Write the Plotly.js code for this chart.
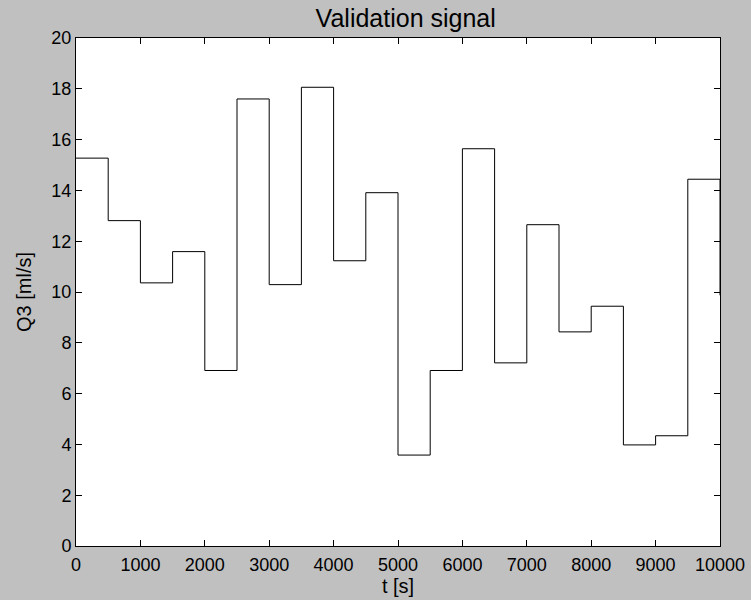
<!DOCTYPE html>
<html>
<head>
<meta charset="utf-8">
<script src="https://cdn.plot.ly/plotly-3.0.1.min.js"></script>
<style>html,body{margin:0;padding:0;background:#c0c0c0;}#chart{width:751px;height:600px;}</style>
</head>
<body>
<div id="chart"></div>
<script>
// Step start times [s]
const stepTimes = [0, 500, 1000, 1500, 2000, 2500, 3000, 3500, 4000, 4500,
                   5000, 5500, 6000, 6500, 7000, 7500, 8000, 8500, 9000, 9500, 10000];
// Q3 level held from each step time [ml/s] (last value = endpoint at t=10000)
const q3Levels = [15.27, 12.81, 10.36, 11.59, 6.91, 17.60, 10.29, 18.06, 11.23, 13.91,
                  3.58, 6.91, 15.64, 7.21, 12.65, 8.43, 9.44, 3.98, 4.34, 14.44, 9.87];
const xTicks = [0, 1000, 2000, 3000, 4000, 5000, 6000, 7000, 8000, 9000, 10000];
const yTicks = [0, 2, 4, 6, 8, 10, 12, 14, 16, 18, 20];

const font = 'Liberation Sans, Arial, Helvetica, sans-serif';

const trace = {
  x: stepTimes,
  y: q3Levels,
  type: 'scatter',
  mode: 'lines',
  line: {shape: 'hv', color: '#000000', width: 1},
  hoverinfo: 'skip'
};

const axisCommon = {
  showgrid: false,
  zeroline: false,
  showline: true,
  linecolor: '#000000',
  linewidth: 1,
  mirror: 'ticks',
  ticks: 'inside',
  ticklen: 6,
  tickwidth: 1,
  tickcolor: '#000000',
  tickfont: {family: font, size: 18, color: '#000000'}
};

const layout = {
  width: 751,
  height: 600,
  paper_bgcolor: '#c0c0c0',
  plot_bgcolor: '#ffffff',
  margin: {l: 76, r: 31, t: 38, b: 54, pad: 0},
  showlegend: false,
  title: {
    text: 'Validation signal',
    font: {family: font, size: 25, color: '#000000'},
    xref: 'paper', x: 0.512, xanchor: 'center',
    yref: 'container', y: 1 - 27 / 600, yanchor: 'bottom'
  },
  xaxis: Object.assign({}, axisCommon, {
    range: [0, 10000],
    tickvals: xTicks,
    ticktext: xTicks.map(String),
    ticklabelstandoff: 2,
    title: {text: 't [s]', font: {family: font, size: 20, color: '#000000'}, standoff: 2}
  }),
  yaxis: Object.assign({}, axisCommon, {
    range: [0, 20],
    tickvals: yTicks,
    ticktext: yTicks.map(String),
    title: {text: 'Q3 [ml/s]', font: {family: font, size: 20, color: '#000000'}, standoff: 14}
  })
};

Plotly.newPlot('chart', [trace], layout, {staticPlot: true, displayModeBar: false});
</script>
</body>
</html>
